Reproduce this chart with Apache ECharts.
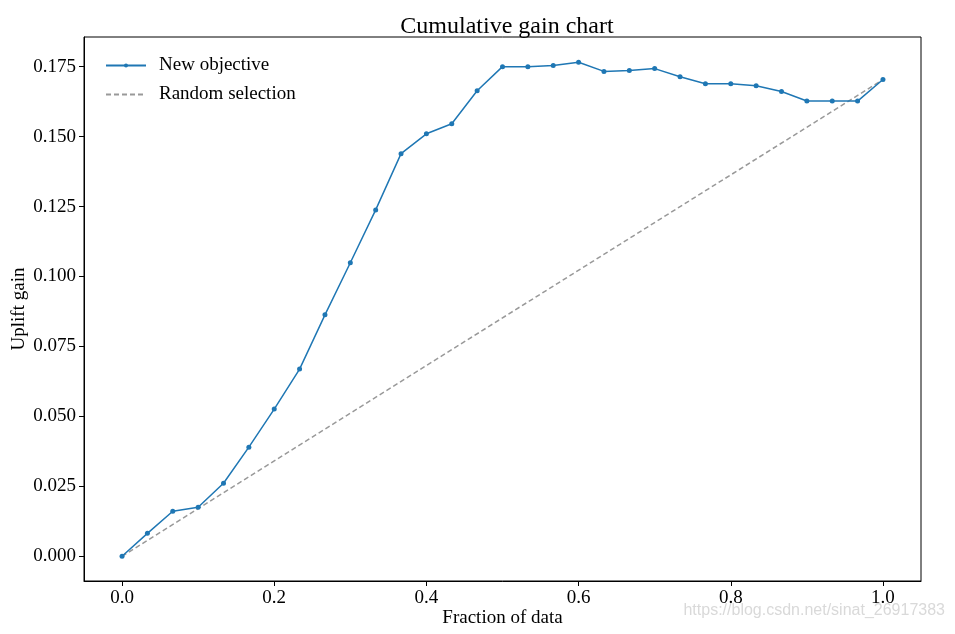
<!DOCTYPE html>
<html>
<head>
<meta charset="utf-8">
<script src="https://cdn.jsdelivr.net/npm/echarts@6/dist/echarts.min.js"></script>
<style>html,body{margin:0;padding:0;background:#fff}#c{width:955px;height:634px}</style>
</head>
<body>
<div id="c"></div>
<script>
const fractions = [];
for (let i = 0; i <= 30; i++) fractions.push(i / 30);
const newObjective = [0, 0.0082, 0.0161, 0.0175, 0.0261, 0.0390, 0.0526, 0.0669, 0.0863, 0.1049, 0.1238, 0.1439, 0.1510, 0.1546, 0.1664, 0.1750, 0.1750, 0.1754, 0.1766, 0.1733, 0.1736, 0.1743, 0.1714, 0.1689, 0.1689, 0.1682, 0.1661, 0.1627, 0.1627, 0.1627, 0.1704];
const randomX = [0, 1];
const randomY = [0, 0.1704];
const xTicks = [0, 0.2, 0.4, 0.6, 0.8, 1.0];
const yTicks = [0, 0.025, 0.05, 0.075, 0.1, 0.125, 0.15, 0.175];

const font = 'Liberation Serif, Times New Roman, serif';
const chart = echarts.init(document.getElementById('c'));
chart.setOption({
  animation: false,
  title: {
    text: 'Cumulative gain chart', left: 502, top: 10, textAlign: 'center',
    textStyle: { fontFamily: font, fontSize: 24, fontWeight: 'normal', color: '#000' }
  },
  grid: { left: 84, right: 34, top: 37, bottom: 53, containLabel: false, outerBoundsMode: 'none',
    show: true, borderColor: '#000', borderWidth: 1 },
  legend: {
    left: 100, top: 51, orient: 'vertical', itemWidth: 40, itemHeight: 5, itemGap: 10,
    textStyle: { fontFamily: font, fontSize: 19, color: '#000', padding: [0, 0, 0, 8] },
    data: [
      { name: 'New objective' },
      { name: 'Random selection', itemStyle: { opacity: 0 } }
    ]
  },
  xAxis: {
    type: 'value', min: -0.05, max: 1.05,
    name: 'Fraction of data', nameLocation: 'middle', nameGap: 28, nameMoveOverlap: false,
    nameTextStyle: { fontFamily: font, fontSize: 19, color: '#000' },
    axisLine: { show: true, onZero: false, lineStyle: { color: '#000' } },
    axisTick: { show: true, length: 5, inside: false, customValues: xTicks, lineStyle: { color: '#000' } },
    axisLabel: { customValues: xTicks, fontFamily: font, fontSize: 19, color: '#000', margin: 8,
      formatter: v => v.toFixed(1) },
    splitLine: { show: false }
  },
  yAxis: {
    type: 'value', min: -0.00884, max: 0.1856,
    name: 'Uplift gain', nameLocation: 'middle', nameGap: 55, nameMoveOverlap: false,
    nameTextStyle: { fontFamily: font, fontSize: 19, color: '#000' },
    axisLine: { show: true, onZero: false, lineStyle: { color: '#000' } },
    axisTick: { show: true, length: 5, inside: false, customValues: yTicks, lineStyle: { color: '#000' } },
    axisLabel: { customValues: yTicks, fontFamily: font, fontSize: 19, color: '#000', margin: 8,
      formatter: v => v.toFixed(3) },
    splitLine: { show: false }
  },
  series: [
    {
      name: 'New objective', type: 'line',
      data: fractions.map((x, i) => [x, newObjective[i]]),
      symbol: 'circle', symbolSize: 5, showSymbol: true,
      itemStyle: { color: '#1f77b4' },
      lineStyle: { color: '#1f77b4', width: 1.5 }
    },
    {
      name: 'Random selection', type: 'line',
      data: randomX.map((x, i) => [x, randomY[i]]),
      symbol: 'none', showSymbol: false,
      itemStyle: { color: '#999999' },
      lineStyle: { color: '#999999', width: 1.5, type: [5, 3] },
      z: 1
    }
  ],
  graphic: [{
    type: 'text', right: 10, top: 603,
    style: { text: 'https://blog.csdn.net/sinat_26917383', fontFamily: 'Liberation Sans, Arial, sans-serif', fontSize: 16, fill: '#d9d9d9' }
  }]
});
</script>
</body>
</html>
